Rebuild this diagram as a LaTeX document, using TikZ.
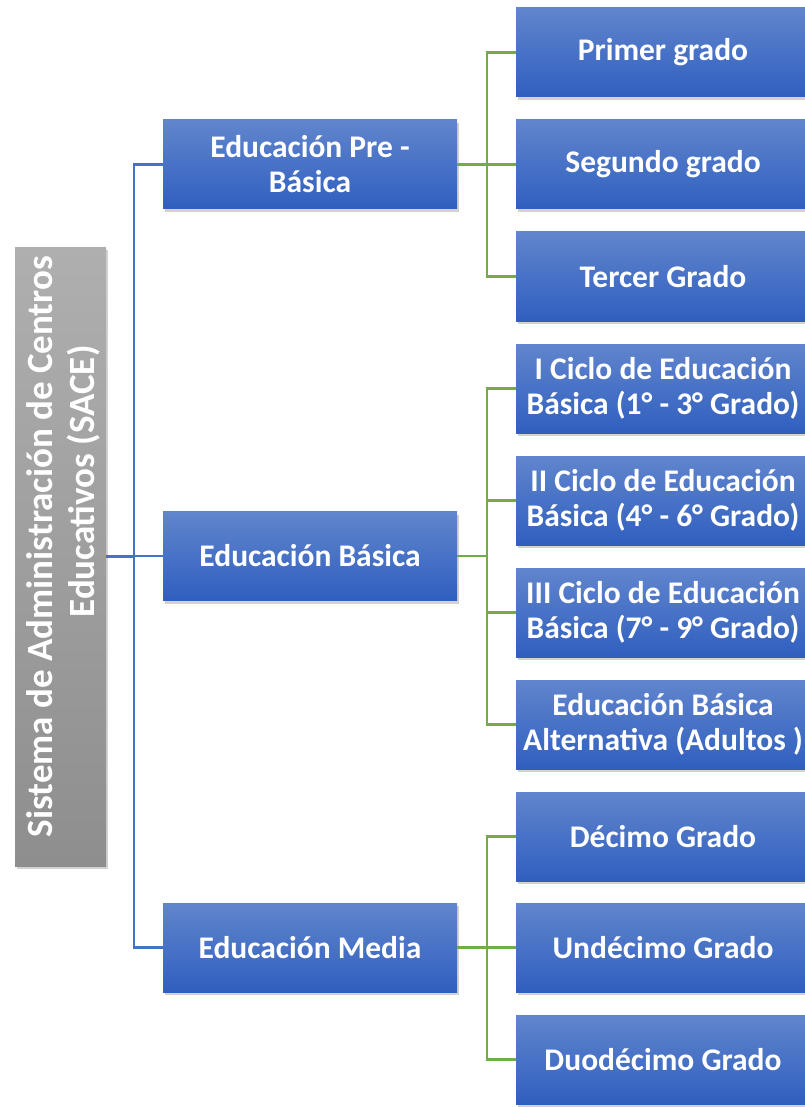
\documentclass[tikz,border=0pt]{standalone}
\usepackage{fontspec}
\setmainfont{Carlito}
\usetikzlibrary{shadows}
\definecolor{boxtop}{HTML}{6185CD}
\definecolor{boxbot}{HTML}{2F5FBF}
\definecolor{graytop}{HTML}{AFAFAF}
\definecolor{graybot}{HTML}{8E8E8E}
\definecolor{bluel}{HTML}{4472C4}
\definecolor{greenl}{HTML}{70AD47}
\tikzset{
  x=1pt, y=-1pt,
  bbox/.style={rectangle, minimum width=294pt, minimum height=89pt, inner sep=0pt,
    top color=boxtop, bottom color=boxbot, draw=none,
    drop shadow={opacity=0.35, shadow xshift=2pt, shadow yshift=-3pt},
    text=white, align=center,
    font=\fontsize{31.5}{35}\selectfont\bfseries},
  rootbox/.style={rectangle, minimum width=91pt, minimum height=619pt, inner sep=0pt,
    top color=graytop, bottom color=graybot, draw=none,
    drop shadow={opacity=0.35, shadow xshift=2pt, shadow yshift=-3pt}},
  roottext/.style={rotate=90, text=white, align=center, inner sep=0pt,
    font=\fontsize{37}{42}\selectfont\bfseries},
  bluecon/.style={draw=bluel, line width=2.5pt},
  greencon/.style={draw=greenl, line width=2.4pt},
}
\begin{document}
\begin{tikzpicture}
\useasboundingbox (0,0) rectangle (804,1107);
\fill[white] (0,0) rectangle (804,1107);
% root
\node[rootbox] (root) at (60.5,556.5) {};
\node[roottext] (rootlabel) at (63,546.5) {Sistema de Administración de Centros\\\hspace*{130pt}Educativos (SACE)};
% level 1
\node[bbox] (pre) at (310,164.5) {Educación Pre -\\Básica};
\node[bbox] (bas) at (310,556) {Educación Básica};
\node[bbox] (med) at (310,947.5) {Educación Media};
% level 2
\node[bbox] (g1) at (663,52.5) {Primer grado};
\node[bbox] (g2) at (663,164.5) {Segundo grado};
\node[bbox] (g3) at (663,276.5) {Tercer Grado};
\node[bbox] (c1) at (663,388.5) {I Ciclo de Educación\\Básica (1° - 3° Grado)};
\node[bbox] (c2) at (663,500.5) {II Ciclo de Educación\\Básica (4° - 6° Grado)};
\node[bbox] (c3) at (663,612.5) {III Ciclo de Educación\\Básica (7° - 9° Grado)};
\node[bbox] (alt) at (663,724.5) {Educación Básica\\Alternativa (Adultos )};
\node[bbox] (m1) at (663,836.5) {Décimo Grado};
\node[bbox] (m2) at (663,947.5) {Undécimo Grado};
\node[bbox] (m3) at (663,1059.5) {Duodécimo Grado};
% connectors
\foreach \t in {pre,bas,med}
  \draw[bluecon] (root.east) -- +(28,0) |- (\t.west);
\foreach \t in {g1,g2,g3}
  \draw[greencon] (pre.east) -- +(29.5,0) |- (\t.west);
\foreach \t in {c1,c2,c3,alt}
  \draw[greencon] (bas.east) -- +(29.5,0) |- (\t.west);
\foreach \t in {m1,m2,m3}
  \draw[greencon] (med.east) -- +(29.5,0) |- (\t.west);
\end{tikzpicture}
\end{document}
